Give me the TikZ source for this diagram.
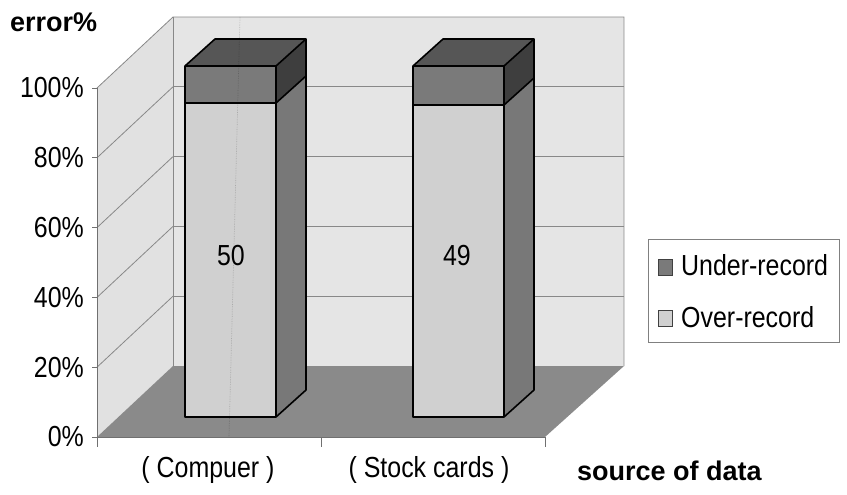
\documentclass[tikz,border=0pt]{standalone}
\usepackage{fontspec}
\setmainfont{Liberation Sans}
\newfontfamily\condf{Liberation Sans}[FakeStretch=0.86]
\definecolor{wallc}{HTML}{E5E5E5}
\definecolor{sidewallc}{HTML}{E1E1E1}
\definecolor{floorc}{HTML}{8A8A8A}
\definecolor{gridc}{HTML}{888888}
\definecolor{axisc}{HTML}{707070}
\definecolor{overfront}{HTML}{D0D0D0}
\definecolor{overside}{HTML}{787878}
\definecolor{underfront}{HTML}{7A7A7A}
\definecolor{underside}{HTML}{3E3E3E}
\definecolor{undertop}{HTML}{565656}
\tikzset{
  gridline/.style={draw=gridc, line width=0.8pt},
  axisline/.style={draw=axisc, line width=0.9pt},
  barline/.style={draw=black, line width=1.6pt, line join=round},
  reg/.style={inner sep=0pt, font=\condf\fontsize{29}{33}\selectfont},
  boldlab/.style={inner sep=0pt, font=\bfseries\fontsize{27}{31}\selectfont},
  legsq/.style={draw=black!75, line width=0.8pt, minimum width=14pt, minimum height=16pt, inner sep=0pt}
}
\begin{document}
\begin{tikzpicture}[x=1pt,y=-1pt]
\useasboundingbox (0,0) rectangle (847,495);
% walls and floor
\fill[sidewallc] (97,88) -- (173,17) -- (173,366) -- (97,437) -- cycle;
\fill[wallc] (173,17) rectangle (624,366);
\fill[floorc] (97,437) -- (173,366) -- (624,366) -- (545,437) -- cycle;
% gridlines
\foreach \k in {1,2,3,4} {
  \draw[gridline] (173,{366-69.8*\k}) -- (624,{366-69.8*\k});
  \draw[gridline] (97,{437-69.8*\k}) -- (173,{366-69.8*\k});
}
\draw[gridline] (97,88) -- (173,17) -- (624,17) -- (624,366);
\draw[gridline] (173,17) -- (173,366);
% axes
\draw[axisline] (97,88) -- (97,437) -- (545,437);
\foreach \k in {0,...,5} { \draw[axisline] (92,{437-69.8*\k}) -- (97,{437-69.8*\k}); }
\foreach \xx in {97,321,545} { \draw[axisline] (\xx,437) -- (\xx,447); }
% bars
\foreach \x/\b in {185/103, 413/105} {
  \fill[overfront] (\x,\b) rectangle (\x+91,417);
  \fill[overside] (\x+91,417) -- (\x+121,390) -- (\x+121,\b-27) -- (\x+91,\b) -- cycle;
  \fill[underfront] (\x,66) rectangle (\x+91,\b);
  \fill[underside] (\x+91,\b) -- (\x+121,\b-27) -- (\x+121,39) -- (\x+91,66) -- cycle;
  \fill[undertop] (\x,66) -- (\x+30,39) -- (\x+121,39) -- (\x+91,66) -- cycle;
  \draw[barline] (\x,417) -- (\x,66) -- (\x+30,39) -- (\x+121,39) -- (\x+121,390) -- (\x+91,417) -- cycle;
  \draw[barline] (\x,66) -- (\x+91,66) -- (\x+121,39);
  \draw[barline] (\x+91,66) -- (\x+91,417);
  \draw[barline] (\x,\b) -- (\x+91,\b) -- (\x+121,\b-27);
}
% faint scan line
\draw[black, opacity=0.18, line width=0.7pt, densely dotted] (240,17) -- (229,437);
% value labels
\node[reg] (v1) at (231,256) {50};
\node[reg] (v2) at (457,256) {49};
% y labels
\foreach \k/\t in {0/0,1/20,2/40,3/60,4/80,5/100} {
  \node[reg, anchor=east] (y\k) at (84,{437-69.8*\k}) {\t\%};
}
\node[boldlab, anchor=base west] (err) at (10,32) {error\%};
% category labels
\node[reg, anchor=base] (c1) at (208,477) {( Compuer )};
\node[reg, anchor=base] (c2) at (429,477) {( Stock cards )};
\node[boldlab, anchor=base west] (src) at (577,480) {source of data};
% legend
\node[draw=gray, line width=0.8pt, minimum width=191pt, minimum height=103pt, inner sep=0pt] (leg) at (743.5,290.5) {};
\node[legsq, fill=underfront] (s1) at (665.5,267) {};
\node[reg, anchor=base west] (t1) at (681,275) {Under-record};
\node[legsq, fill=overfront] (s2) at (665.5,318) {};
\node[reg, anchor=base west] (t2) at (681,327) {Over-record};
\end{tikzpicture}
\end{document}
